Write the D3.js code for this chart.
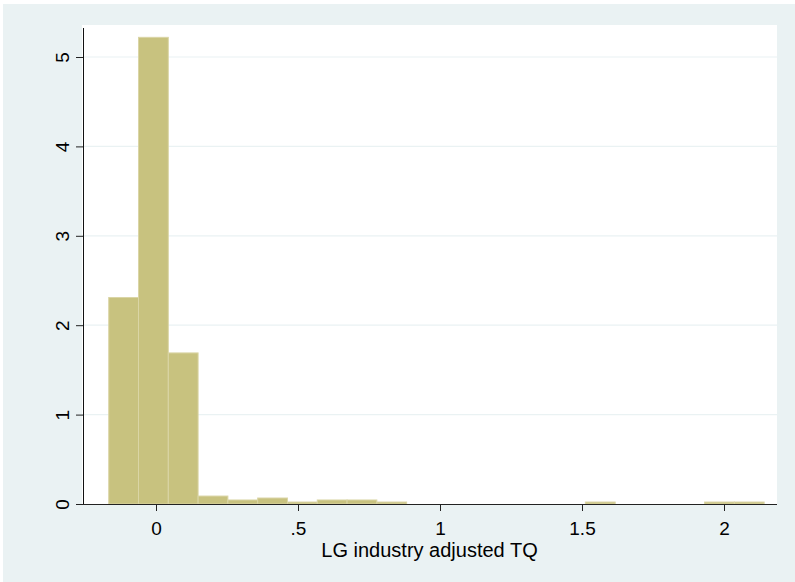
<!DOCTYPE html>
<html>
<head>
<meta charset="utf-8">
<script src="https://cdn.jsdelivr.net/npm/d3@7"></script>
<style>
  body { margin: 0; background: #fff; }
  text { font-family: "Liberation Sans", Arial, sans-serif; fill: #000; }
</style>
</head>
<body>
<script>
// histogram of LG industry adjusted TQ (density scale)
var binStart = -0.1665;
var binWidth = 0.1049;
var densities = [2.31, 5.22, 1.69, 0.089, 0.045, 0.067, 0.022, 0.045, 0.045, 0.022,
                 0, 0, 0, 0, 0, 0, 0.022, 0, 0, 0, 0.022, 0.022];
var xTicks = [0, 0.5, 1, 1.5, 2];
var xTickLabels = ["0", ".5", "1", "1.5", "2"];
var yTicks = [0, 1, 2, 3, 4, 5];
var xTitle = "LG industry adjusted TQ";

var width = 795, height = 582;
// plot region (window.top is reserved, so use other names)
var plotLeft = 82, plotRight = 777, plotTop = 25, plotBottom = 504;

var svg = d3.select("body").append("svg")
    .attr("width", width)
    .attr("height", height);

// outer background (light blue) and white plot region
svg.append("rect")
    .attr("x", 3).attr("y", 4)
    .attr("width", width - 3).attr("height", height - 4)
    .attr("fill", "#EAF2F3");
svg.append("rect")
    .attr("x", plotLeft).attr("y", plotTop)
    .attr("width", plotRight - plotLeft).attr("height", plotBottom - plotTop)
    .attr("fill", "#fff");

var x = d3.scaleLinear().domain([-0.2606, 2.1866]).range([plotLeft, plotRight]);
var y = d3.scaleLinear().domain([0, 5.358]).range([plotBottom, plotTop]);

// horizontal grid lines
svg.selectAll("line.grid")
    .data(yTicks.filter(function(d) { return d > 0; }))
    .enter()
    .append("line")
    .attr("class", "grid")
    .attr("x1", plotLeft).attr("x2", plotRight)
    .attr("y1", function(d) { return y(d); })
    .attr("y2", function(d) { return y(d); })
    .attr("stroke", "#EAF2F3")
    .attr("stroke-width", 1.2);

// bars
svg.selectAll("rect.bar")
    .data(densities)
    .enter()
    .append("rect")
    .attr("class", "bar")
    .attr("x", function(d, i) { return x(binStart + i * binWidth); })
    .attr("width", function(d, i) { return x(binStart + (i + 1) * binWidth) - x(binStart + i * binWidth); })
    .attr("y", function(d) { return y(d); })
    .attr("height", function(d) { return y(0) - y(d); })
    .attr("fill", "#C8C27F")
    .attr("stroke", "#DAD5A6")
    .attr("stroke-width", 1)
    .style("display", function(d) { return d > 0 ? null : "none"; });

// x axis
var xAxis = d3.axisBottom(x)
    .tickValues(xTicks)
    .tickFormat(function(d, i) { return xTickLabels[i]; })
    .tickSize(7)
    .tickSizeOuter(0)
    .tickPadding(11);
var gx = svg.append("g")
    .attr("transform", "translate(0," + plotBottom + ")")
    .call(xAxis);
gx.select(".domain").attr("stroke", "#222").attr("d", "M" + plotLeft + ",0.5H" + plotRight);
gx.selectAll(".tick line").attr("stroke", "#222");
gx.selectAll(".tick text")
    .style("font-size", "19px")
    .attr("fill", "#000");

// y axis
var yAxis = d3.axisLeft(y)
    .tickValues(yTicks)
    .tickSize(7)
    .tickSizeOuter(0)
    .tickFormat(d3.format("d"));
var gy = svg.append("g")
    .attr("transform", "translate(" + (plotLeft + 1) + ",0)")
    .call(yAxis);
gy.select(".domain").attr("stroke", "#111").attr("d", "M0.5," + (plotTop + 3) + "V" + plotBottom);
gy.selectAll(".tick line").attr("stroke", "#222");
gy.selectAll(".tick text")
    .style("font-size", "19px")
    .attr("fill", "#000")
    .attr("text-anchor", "middle")
    .attr("dy", null)
    .attr("x", null)
    .attr("transform", "translate(-14,0) rotate(-90)");

// x axis title
svg.append("text")
    .attr("x", (plotLeft + plotRight) / 2)
    .attr("y", 557)
    .attr("text-anchor", "middle")
    .style("font-size", "20px")
    .text(xTitle);
</script>
</body>
</html>
